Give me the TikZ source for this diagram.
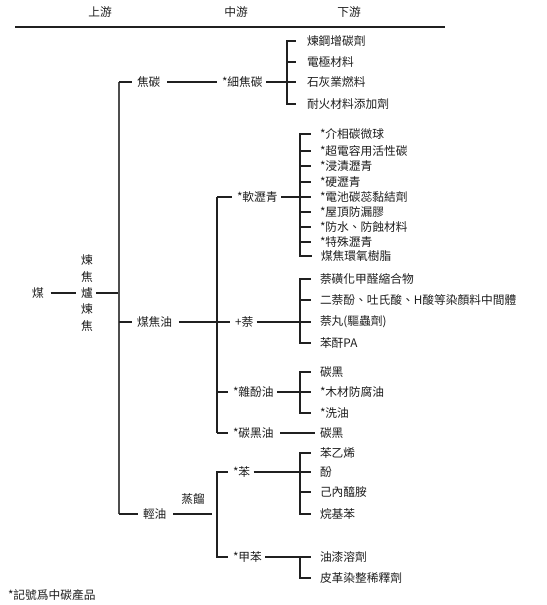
\documentclass[tikz,border=0pt]{standalone}
\usepackage{fontspec}
\setmainfont{Noto Sans CJK TC}
\definecolor{ink}{HTML}{1E1E1E}
\definecolor{lnc}{HTML}{202020}
\newcommand\fsz{\fontsize{8.8pt}{12.3pt}\selectfont}
\begin{document}
\begin{tikzpicture}[x=0.75pt,y=-0.75pt,
  txt/.style={inner sep=0pt, outer sep=0pt, font=\fsz, text=ink},
  item/.style={txt, anchor=west},
  ln/.style={draw=lnc, line width=1pt},
  sp/.style={draw=lnc!80, line width=1.2pt},
  br/.style={draw=lnc, line width=1.4pt, shorten >=6.5pt},
  to/.style={ln, shorten >=4pt},
  gl/.style={ln, shorten <=5pt, shorten >=4pt},
  fr/.style={ln, shorten <=2.5pt}]
\useasboundingbox (0,0) rectangle (546,605);
\fill[white] (0,0) rectangle (546,605);
% header
\node[txt] (hu) at (100,12) {上游};
\node[txt] (hm) at (236,12) {中游};
\node[txt] (hd) at (349,12) {下游};
\coordinate (hl) at (15,27);
\coordinate (hr) at (445,27);
\draw[draw=lnc, line width=0.8pt] (hl) -- (hr);
% left
\node[txt] (mei) at (38,293) {煤};
\node[txt, align=center] (lu) at (87,293) {煉\\焦\\爐\\煉\\焦};
\coordinate (s1t) at (119,82);
\coordinate (s1b) at (119,514);
\coordinate (s1m) at (119,293);
\draw[gl] (mei.east) -- (lu.west);
\draw[fr] (lu.east) -- (s1m);
\draw[sp] (s1t) -- (s1b);
% upstream-level nodes
\node[item] (jt) at (137,82) {焦碳};
\node[item] (my) at (137,322) {煤焦油};
\node[item] (qy) at (143,514) {輕油};
\draw[to] (s1t) -- (jt.west);
\draw[to] (s1t|-my.west) -- (my.west);
\draw[to] (s1b) -- (qy.west);
% coke branch
\node[item] (xjt) at (222,82) {*細焦碳};
\draw[gl] (jt.east) -- (xjt.west);
\coordinate (b1) at (287,82);
\draw[fr] (xjt.east) -- (b1);
\node[item] (a1) at (307,41) {煉鋼增碳劑};
\node[item] (a2) at (307,62) {電極材料};
\node[item] (a3) at (307,82) {石灰業燃料};
\node[item] (a4) at (307,104) {耐火材料添加劑};
\foreach \n in {a1,a2,a3,a4} \draw[br, shorten >=8pt] (b1) |- (\n.west);
% coal tar branch
\coordinate (s2t) at (217,197);
\coordinate (s2b) at (217,433);
\draw[ln] (s2t) -- (s2b);
\node[item] (rlq) at (237,197) {*軟瀝青};
\node[item] (nai) at (235,322) {+萘};
\node[item] (zfy) at (233,392) {*雜酚油};
\node[item] (thy) at (233,433) {*碳黑油};
\draw[to] (s2t) -- (rlq.west);
\draw[gl] (my.east) -- (nai.west);
\draw[to] (s2t|-zfy.west) -- (zfy.west);
\draw[to] (s2b) -- (thy.west);
% soft pitch
\coordinate (b2) at (300,197);
\draw[fr] (rlq.east) -- (b2);
\node[item] (p1) at (320,134) {*介相碳微球};
\node[item] (p2) at (320,151) {*超電容用活性碳};
\node[item] (p3) at (320,166) {*浸漬瀝青};
\node[item] (p4) at (320,182) {*硬瀝青};
\node[item] (p5) at (320,197) {*電池碳蕊黏結劑};
\node[item] (p6) at (320,212) {*屋頂防漏膠};
\node[item] (p7) at (320,227) {*防水、防蝕材料};
\node[item] (p8) at (320,242) {*特殊瀝青};
\node[item] (p9) at (321,256) {煤焦環氧樹脂};
\foreach \n in {p1,p2,p3,p4,p5,p6,p7,p8,p9} \draw[br] (b2) |- (\n.west);
% naphthalene
\coordinate (b3) at (300,322);
\draw[fr] (nai.east) -- (b3);
\node[item] (n1) at (320,279) {萘磺化甲醛縮合物};
\node[item] (n2) at (320,300) {二萘酚、吐氏酸、H酸等染顏料中間體};
\node[item] (n3) at (320,322) {萘丸(驅蟲劑)};
\node[item] (n4) at (320,343) {苯酐PA};
\foreach \n in {n1,n2,n3,n4} \draw[br] (b3) |- (\n.west);
% creosote
\coordinate (b4) at (300,392);
\draw[fr] (zfy.east) -- (b4);
\node[item] (z1) at (320,372) {碳黑};
\node[item] (z2) at (320,392) {*木材防腐油};
\node[item] (z3) at (320,413) {*洗油};
\foreach \n in {z1,z2,z3} \draw[br] (b4) |- (\n.west);
% carbon black oil
\node[item] (c1) at (320,433) {碳黑};
\draw[gl] (thy.east) -- (c1.west);
% light oil
\coordinate (s3m) at (217,514);
\draw[gl] (qy.east) -- (s3m);
\node[txt] (zl) at (193,499) {蒸餾};
\node[item] (ben) at (233,472) {*苯};
\node[item] (jb) at (233,557) {*甲苯};
\draw[to] (s3m) |- (ben.west);
\draw[to] (s3m) |- (jb.west);
\coordinate (b5) at (300,472);
\draw[fr] (ben.east) -- (b5);
\node[item] (e1) at (320,453) {苯乙烯};
\node[item] (e2) at (320,472) {酚};
\node[item] (e3) at (320,492) {己內醯胺};
\node[item] (e4) at (320,514) {烷基苯};
\foreach \n in {e1,e2,e3,e4} \draw[br] (b5) |- (\n.west);
\coordinate (b6) at (300,557);
\draw[fr] (jb.east) -- (b6);
\node[item] (t1) at (320,557) {油漆溶劑};
\node[item] (t2) at (320,578) {皮革染整稀釋劑};
\foreach \n in {t1,t2} \draw[br] (b6) |- (\n.west);
% footnote
\node[item] (fn) at (8,595) {*記號爲中碳產品};
\end{tikzpicture}
\end{document}
